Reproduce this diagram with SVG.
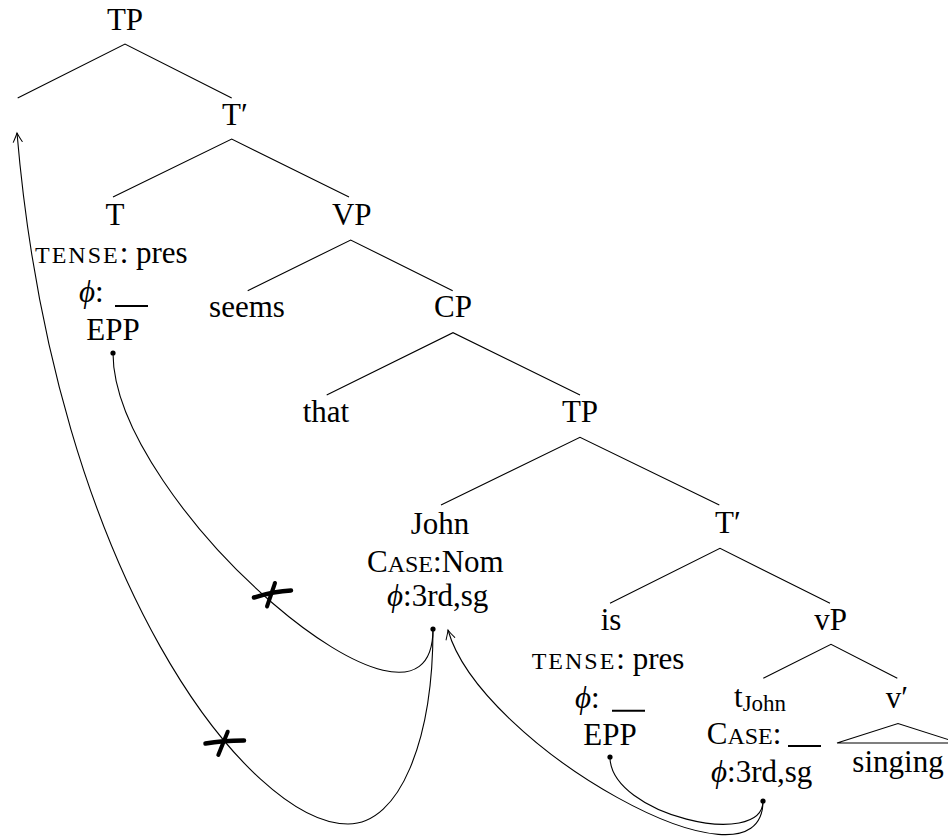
<svg xmlns="http://www.w3.org/2000/svg" width="948" height="839" viewBox="0 0 948 839">
<defs>
<marker id="arr" viewBox="-12 -6 14 12" refX="0" refY="0" markerWidth="14" markerHeight="12" markerUnits="userSpaceOnUse" orient="auto">
<path d="M-9,-4.5 Q-3,-1.2 0,0 Q-3,1.2 -9,4.5" fill="none" stroke="#000" stroke-width="1" stroke-linecap="round"/>
</marker>
</defs>
<style>
text{font-family:"Liberation Serif","Times New Roman","DejaVu Serif",serif;font-size:31px;fill:#000}
.c{text-anchor:middle}
.sc{font-size:24px}
.sub{font-size:23px}
.phi{font-style:italic}
.br{stroke:#000;stroke-width:1.1;fill:none}
.blank{stroke:#000;stroke-width:2;fill:none}
.arc{stroke:#000;stroke-width:1.1;fill:none}
.dot{fill:#000}
.x{stroke:#000;fill:none;stroke-linecap:round}
</style>
<rect width="948" height="839" fill="#fff"/>

<g id="branches">
<path class="br" d="M17.7,98 L125,44 L231.7,98"/>
<path class="br" d="M113,197 L231.7,139 L349,197"/>
<path class="br" d="M247.7,290.7 L350.7,240 L452.7,290.7"/>
<path class="br" d="M326.7,395 L453,332.7 L580,395"/>
<path class="br" d="M441,505 L580,437.3 L719.3,505"/>
<path class="br" d="M610,603.3 L720,548.3 L830,603.3"/>
<path class="br" d="M763.3,678.3 L831,644.3 L897.3,678.3"/>
</g>

<g id="node-TP-top"><text class="c" x="125" y="30">TP</text></g>
<g id="node-Tbar-top"><text x="222" y="125">T′</text></g>
<g id="node-T">
<text class="c" x="115" y="225">T</text>
<text x="35" y="263"><tspan class="sc" letter-spacing="2">TENSE</tspan>: pres</text>
<text x="79" y="302"><tspan class="phi">ϕ</tspan>:</text>
<line class="blank" x1="115" y1="306" x2="148" y2="306"/>
<text class="c" x="113" y="340">EPP</text>
<circle class="dot" cx="113" cy="353" r="2.6"/>
</g>
<g id="node-VP"><text class="c" x="351.7" y="225">VP</text></g>
<g id="node-seems"><text class="c" x="247" y="317">seems</text></g>
<g id="node-CP"><text class="c" x="453" y="317">CP</text></g>
<g id="node-that"><text class="c" x="326" y="422">that</text></g>
<g id="node-TP-low"><text class="c" x="580" y="422">TP</text></g>
<g id="node-John">
<text class="c" x="440" y="534">John</text>
<text x="367" y="572">C<tspan class="sc">ASE</tspan>:Nom</text>
<text x="387" y="606"><tspan class="phi">ϕ</tspan>:3rd,sg</text>
<circle class="dot" cx="433" cy="629" r="2.6"/>
</g>
<g id="node-Tbar-low"><text x="715" y="533">T′</text></g>
<g id="node-is">
<text class="c" x="611" y="630">is</text>
<text x="531.7" y="669"><tspan class="sc" letter-spacing="2">TENSE</tspan>: pres</text>
<text x="575" y="708"><tspan class="phi">ϕ</tspan>:</text>
<line class="blank" x1="612" y1="710.7" x2="645" y2="710.7"/>
<text class="c" x="610" y="745">EPP</text>
<circle class="dot" cx="610" cy="757" r="2.6"/>
</g>
<g id="node-vP"><text class="c" x="830.7" y="630">vP</text></g>
<g id="node-tJohn">
<text x="734" y="707">t<tspan class="sub" dy="4">John</tspan></text>
<text x="706.7" y="744">C<tspan class="sc">ASE</tspan>:</text>
<line class="blank" x1="788" y1="746" x2="821" y2="746"/>
<text x="711" y="782"><tspan class="phi">ϕ</tspan>:3rd,sg</text>
<circle class="dot" cx="763" cy="801" r="2.6"/>
</g>
<g id="node-vbar">
<text class="c" x="897" y="708">v′</text>
<path class="br" d="M837,743 L898,723.5 L959,743 Z"/>
<text class="c" x="898" y="772">singing</text>
</g>

<g id="connectors">
<path class="arc" d="M113,353 C113,503 433,779 433,629"/>
<path class="arc" d="M433,629 C433,740 400,824 348,824 C250,824 55,580 17,133" marker-end="url(#arr)"/>
<path class="arc" d="M763,801 C763,905 480,745 448,630" marker-end="url(#arr)"/>
<path class="arc" d="M610,757 C610,815 763,850 763,801"/>
<path class="x" stroke-width="4.5" d="M254,597.5 C262,595 276,591 291,590.5"/>
<path class="x" stroke-width="4" d="M275,583 L267,606.5"/>
<path class="x" stroke-width="4.5" d="M205.5,743.5 C214,742 230,740.5 244,740.5"/>
<path class="x" stroke-width="4" d="M227.7,731.7 L218.3,755"/>
</g>
</svg>
